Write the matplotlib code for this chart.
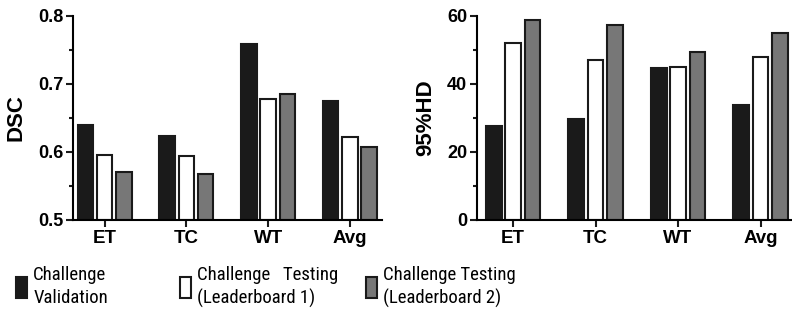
import matplotlib
matplotlib.use("Agg")
import matplotlib.pyplot as plt
import numpy as np
from matplotlib.patches import Patch
from matplotlib.ticker import MultipleLocator, FormatStrFormatter

plt.rcParams['font.family'] = ['Liberation Sans', 'DejaVu Sans']

categories = ["ET", "TC", "WT", "Avg"]
series_labels = ["Challenge\nValidation", "Challenge   Testing\n(Leaderboard 1)", "Challenge Testing\n(Leaderboard 2)"]
dsc_validation = [0.640, 0.624, 0.759, 0.675]
dsc_lb1 = [0.595, 0.594, 0.678, 0.622]
dsc_lb2 = [0.571, 0.568, 0.685, 0.608]
hd_validation = [27.7, 29.6, 44.8, 33.9]
hd_lb1 = [51.9, 47.0, 45.0, 47.9]
hd_lb2 = [58.9, 57.4, 49.3, 55.1]

colors = ["#1a1a1a", "#ffffff", "#777777"]

fig = plt.figure(figsize=(7.92, 3.24), dpi=100)
ax1 = fig.add_axes([0.092, 0.321, 0.390, 0.630])
ax2 = fig.add_axes([0.602, 0.321, 0.400, 0.630])

x = np.arange(len(categories))
offset = 0.235
width = 0.19

def draw(ax, data, ylim, major, minor, ylabel, xlim, fmt):
    for i, (vals, c) in enumerate(zip(data, colors)):
        base = ylim[0]
        ax.bar(x + (i - 1) * offset, np.array(vals) - base, width, bottom=base,
               color=c, edgecolor="#1a1a1a", linewidth=1.5, zorder=2)
    ax.set_ylim(*ylim)
    ax.set_xlim(*xlim)
    ax.yaxis.set_major_locator(MultipleLocator(major))
    ax.yaxis.set_minor_locator(MultipleLocator(minor))
    ax.yaxis.set_major_formatter(FormatStrFormatter(fmt))
    ax.set_xticks(x)
    ax.set_xticklabels(categories, fontsize=13.5, fontweight="bold", family="Liberation Sans")
    for lab in ax.get_yticklabels():
        lab.set_fontsize(13)
        lab.set_fontweight("bold")
        lab.set_family("Liberation Sans")
    ax.spines["top"].set_visible(False)
    ax.spines["right"].set_visible(False)
    ax.spines["left"].set_linewidth(1.5)
    ax.spines["bottom"].set_linewidth(1.5)
    ax.tick_params(axis="both", which="major", width=1.5, length=5, color="#1a1a1a", pad=2)
    ax.tick_params(axis="y", which="minor", width=1.5, length=3, color="#1a1a1a")
    ax.set_ylabel(ylabel, fontsize=16, fontweight="bold", labelpad=8, family="Liberation Sans")

draw(ax1, [dsc_validation, dsc_lb1, dsc_lb2], (0.5, 0.8), 0.1, 0.05, "DSC", (-0.39, 3.39), "%.1f")
draw(ax2, [hd_validation, hd_lb1, hd_lb2], (0, 60), 20, 10, "95%HD", (-0.44, 3.40), "%d")

legend_x = [0.004, 0.211, 0.446]
for c, lab, lx in zip(colors, series_labels, legend_x):
    h = Patch(facecolor=c, edgecolor="#1a1a1a", linewidth=1.5)
    leg = fig.legend([h], [lab], loc="center left", bbox_to_anchor=(lx, 0.115),
                     frameon=False, prop={"family": ["Roboto Condensed", "Liberation Sans"], "size": 13.5},
                     handlelength=0.55, handleheight=1.4, handletextpad=0.35,
                     labelspacing=0.2, borderpad=0.2)
    for t in leg.get_texts():
        t.set_linespacing(1.35)

fig.savefig("out.png", dpi=100)
